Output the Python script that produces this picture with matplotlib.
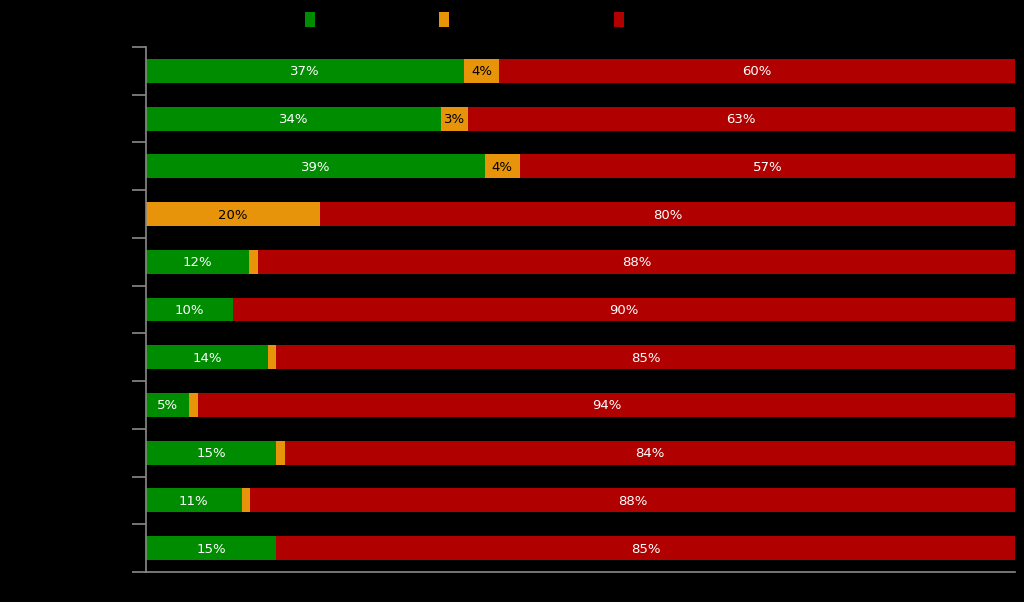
import numpy as np
import matplotlib
matplotlib.use("Agg")
import matplotlib.pyplot as plt

# Row labels are drawn in black on black in the reference (unreadable)
categories = ["Item 1", "Item 2", "Item 3", "Item 4", "Item 5", "Item 6",
              "Item 7", "Item 8", "Item 9", "Item 10", "Item 11"]
series_names = ["Fully aligned", "Partially compliant", "Non-compliant"]
green_pct = [37, 34, 39, 0, 12, 10, 14, 5, 15, 11, 15]
orange_pct = [4, 3, 4, 20, 1, 0, 1, 1, 1, 1, 0]
red_pct = [60, 63, 57, 80, 88, 90, 85, 94, 84, 88, 85]

colors = ["#008c00", "#e8940a", "#b00000"]
text_colors = ["white", "black", "white"]

data = np.array([green_pct, orange_pct, red_pct], dtype=float)
shares = data / data.sum(axis=0) * 100  # each bar fills the full width

fig = plt.figure(figsize=(10.24, 6.02), dpi=100, facecolor="black")
ax = fig.add_axes([0.1426, 0.0498, 0.8486, 0.8721], facecolor="black")

y = np.arange(len(categories))
left = np.zeros(len(categories))
for k in range(3):
    bars = ax.barh(y, shares[k], left=left, height=0.5, color=colors[k],
                   label=series_names[k])
    for i, b in enumerate(bars):
        if data[k, i] >= 2:
            ax.text(left[i] + shares[k, i] / 2, y[i] + 0.02, f"{int(data[k, i])}%",
                    ha="center", va="center", color=text_colors[k], fontsize=9.5)
    left += shares[k]

ax.set_xlim(0, 100)
ax.set_ylim(len(categories) - 0.5, -0.5)

# category boundaries as tick marks, labels centered on bars (black on black)
ax.set_yticks(np.arange(len(categories) + 1) - 0.5)
ax.set_yticklabels([])
ax.set_yticks(y, minor=True)
ax.set_yticklabels(categories, minor=True, color="black", fontsize=9.5)
ax.tick_params(axis="y", which="major", length=10, color="#8a8a8a", width=1.2)
ax.tick_params(axis="y", which="minor", length=0)
ax.set_xticks([])

for side in ["top", "right"]:
    ax.spines[side].set_visible(False)
for side in ["left", "bottom"]:
    ax.spines[side].set_color("#8a8a8a")
    ax.spines[side].set_linewidth(1.2)

leg = fig.legend(loc="upper left", bbox_to_anchor=(0.286, 1.0), ncol=3,
                 frameon=False, fontsize=10, handlelength=0.7, handleheight=1.2,
                 columnspacing=2.0, handletextpad=0.6)
for t in leg.get_texts():
    t.set_color("black")

fig.savefig("out.png", dpi=100, facecolor="black")
